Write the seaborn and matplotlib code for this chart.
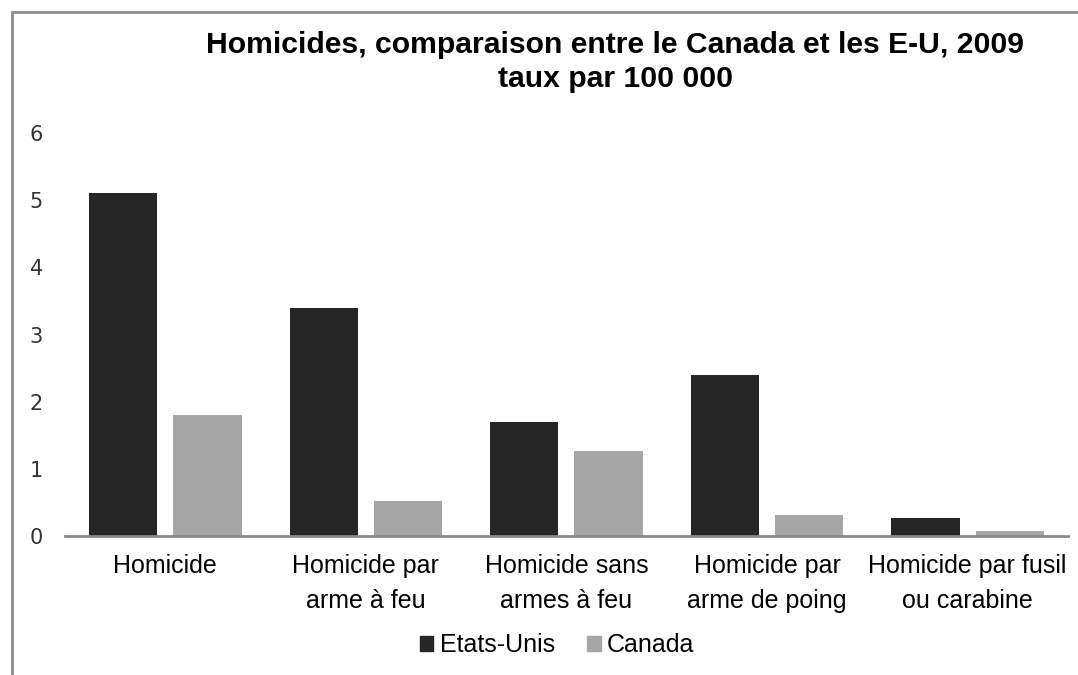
import matplotlib
matplotlib.use("Agg")
import matplotlib.pyplot as plt
import matplotlib.patches as mpatches
import seaborn as sns
import pandas as pd

categories = ["Homicide", "Homicide par\narme à feu", "Homicide sans\narmes à feu",
              "Homicide par\narme de poing", "Homicide par fusil\nou carabine"]
etats_unis = [5.1, 3.4, 1.7, 2.4, 0.27]
canada = [1.8, 0.52, 1.27, 0.32, 0.08]
series = ["Etats-Unis", "Canada"]
yticks = [0, 1, 2, 3, 4, 5, 6]

df = pd.DataFrame({
    "cat": categories * 2,
    "serie": [series[0]] * len(categories) + [series[1]] * len(categories),
    "val": etats_unis + canada,
})

sns.set_style("white")
plt.rcParams["font.family"] = ["Liberation Sans", "DejaVu Sans"]

fig = plt.figure(figsize=(10.78, 6.75), dpi=100)
ax = fig.add_axes([0.0603, 0.2059, 0.9304, 0.597])

sns.barplot(data=df, x="cat", y="val", hue="serie", palette=["#262626", "#a6a6a6"],
            width=0.84, gap=0.19, saturation=1, errorbar=None, linewidth=0, ax=ax)

ax.set_ylim(0, 6)
ax.set_xlim(-0.5, len(categories) - 0.5)
ax.set_yticks(yticks)
ax.set_yticklabels([str(t) for t in yticks], fontsize=15, color="#333333", family="DejaVu Sans")
ax.tick_params(axis="y", length=0, pad=16)
ax.tick_params(axis="x", length=0, pad=13, labelsize=18)
for lab in ax.get_xticklabels():
    lab.set_color("black")
    lab.set_linespacing(1.55)
ax.set_xlabel("")
ax.set_ylabel("")
for s in ["top", "right", "left"]:
    ax.spines[s].set_visible(False)
ax.spines["bottom"].set_color("#888888")
ax.spines["bottom"].set_linewidth(2)

ax.get_legend().remove()
handles = [mpatches.Patch(color="#262626"), mpatches.Patch(color="#a6a6a6")]
leg = fig.legend(handles, series, loc="center", bbox_to_anchor=(557 / 1078, 1 - 645 / 675), ncol=2,
                 frameon=False, fontsize=18, handlelength=0.55, handleheight=0.55,
                 handletextpad=0.25, columnspacing=1.3)
for t in leg.get_texts():
    t.set_color("black")

fig.text(615 / 1078, 1 - 62 / 675, "Homicides, comparaison entre le Canada et les E-U, 2009\ntaux par 100 000",
         ha="center", va="center", fontsize=21.7, fontweight="bold", linespacing=1.25, color="black")

border = mpatches.Rectangle((12 / 1078, -0.5), 2, 0.5 + (1 - 12 / 675), transform=fig.transFigure,
                            fill=False, edgecolor="#8c8c8c", linewidth=2)
fig.add_artist(border)

fig.savefig("out.png", dpi=100)
